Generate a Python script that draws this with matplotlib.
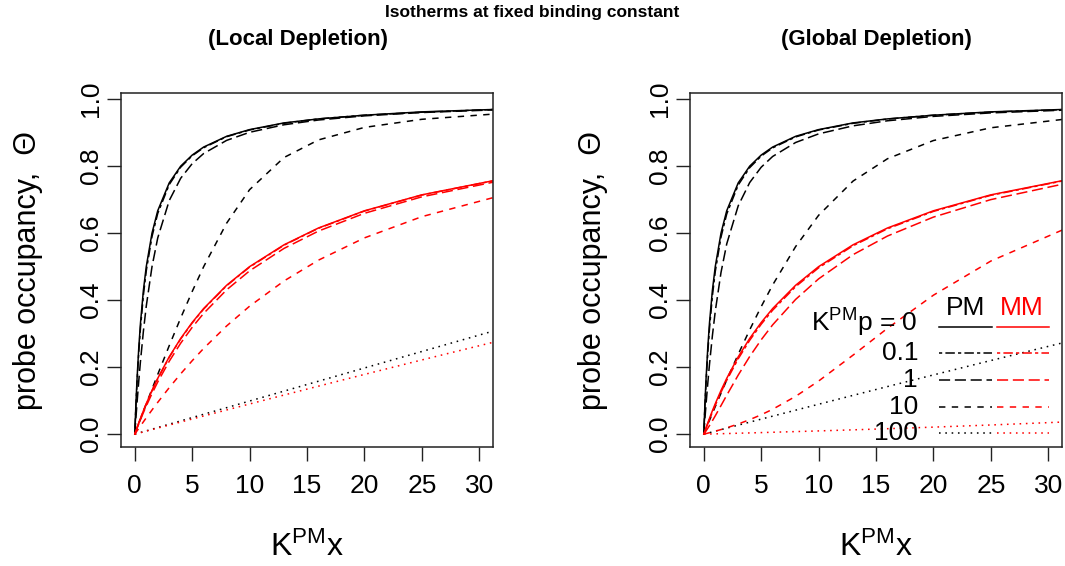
import matplotlib
matplotlib.use("Agg")
import matplotlib.pyplot as plt

plt.rcParams['font.family'] = ['Liberation Sans', 'DejaVu Sans']
plt.rcParams['mathtext.fontset'] = 'custom'
plt.rcParams['mathtext.rm'] = 'Liberation Sans'
plt.rcParams['mathtext.it'] = 'Liberation Sans:italic'
plt.rcParams['lines.scale_dashes'] = False

# ---------------- data ----------------
x = [0, 0.1, 0.2, 0.35, 0.5, 0.75, 1, 1.5, 2, 3, 4, 5, 6, 8, 10, 13, 16, 20, 25, 32]
p_labels = ["0", "0.1", "1", "10", "100"]

pm_p0 = [0, .091, .167, .259, .333, .429, .5, .6, .667, .75, .8, .833, .857, .889, .909, .929, .941, .952, .962, .970]
mm_p0 = [0, .0099, .0196, .0338, .0476, .0698, .0909, .1304, .1667, .2308, .2857, .3333, .375, .4444, .5, .5652, .6154, .6667, .7143, .7619]

# local depletion
loc_pm_p01 = [0, .084, .156, .246, .319, .415, .4875, .590, .659, .745, .797, .831, .855, .888, .908, .928, .941, .952, .961, .970]
loc_pm_p1 = [0, .0488, .095, .1598, .2192, .307, .382, .5, .5858, .6972, .7639, .8074, .8377, .8769, .901, .9235, .9377, .9501, .96, .9688]
loc_pm_p10 = [0, .0091, .0182, .0317, .0453, .0677, .0901, .1345, .1783, .2641, .3469, .4258, .5, .6298, .7298, .8258, .8783, .9156, .9398, .9573]
loc_pm_p100 = [0, .001, .002, .0035, .005, .0074, .0099, .0149, .0198, .0297, .0396, .0495, .0594, .0791, .0989, .1285, .1581, .1975, .2467, .3154]

loc_mm_p01 = [0, .0098, .0194, .0335, .0472, .0692, .0902, .1295, .1655, .2293, .2843, .3318, .3735, .4431, .4987, .5641, .6145, .6659, .7137, .7615]
loc_mm_p1 = [0, .0090, .0179, .0309, .0437, .0642, .0839, .1212, .1557, .2176, .2716, .3189, .3606, .4308, .4875, .5545, .6062, .6592, .7084, .7576]
loc_mm_p10 = [0, .005, .00995, .0174, .0247, .0368, .0488, .0722, .095, .1388, .1802, .2192, .256, .323, .382, .4573, .5194, .5858, .6492, .7132]
loc_mm_p100 = [0, .0009, .0018, .0032, .0045, .0068, .0091, .0136, .0182, .0272, .0362, .0453, .0543, .0722, .0901, .1168, .1433, .1783, .2215, .2809]

# global depletion
glo_pm_p01 = [0, .0832, .1545, .2438, .3169, .4125, .4853, .5883, .6573, .7438, .7955, .83, .8546, .8872, .9079, .9278, .9406, .952, .9613, .9695]
glo_pm_p1 = [0, .0464, .0906, .1525, .2094, .2939, .3666, .4826, .5681, .6817, .7511, .7968, .8289, .8706, .8963, .9203, .9354, .9485, .9589, .968]
glo_pm_p10 = [0, .0083, .0166, .029, .0414, .0619, .0822, .1223, .1618, .2384, .3115, .3806, .4454, .5599, .6532, .7554, .8221, .8764, .9145, .9424]
glo_pm_p100 = [0, .0009, .0018, .0032, .0045, .0068, .009, .0135, .018, .027, .0359, .0449, .0538, .0716, .0893, .1158, .1421, .1768, .2198, .2789]

glo_mm_p01 = [0, .009, .0181, .0312, .0443, .0656, .0862, .125, .1609, .225, .2802, .3281, .3702, .4403, .4965, .5624, .6131, .6649, .7129, .7609]
glo_mm_p1 = [0, .0049, .0099, .0177, .0258, .04, .0547, .0853, .1162, .1764, .2318, .2817, .3264, .4022, .4635, .5358, .5914, .6479, .7001, .7517]
glo_mm_p10 = [0, .0008, .0017, .003, .0043, .0066, .0089, .0137, .0189, .0304, .0433, .0579, .0743, .1129, .1585, .2359, .316, .4148, .5167, .6208]
glo_mm_p100 = [0, .0001, .0002, .0003, .0005, .0007, .0009, .0014, .0018, .0028, .0037, .0047, .0057, .0077, .0097, .0129, .0163, .021, .0274, .0372]

x_ticks = [0, 5, 10, 15, 20, 25, 30]
y_ticks = [0.0, 0.2, 0.4, 0.6, 0.8, 1.0]
y_ticklabels = ["0.0", "0.2", "0.4", "0.6", "0.8", "1.0"]

# ---------------- styles ----------------
styles = ['-', (0, (2.3, 2.3, 6.8, 2.3)), (0, (8, 3.4)), (0, (4.6, 4.6)), (0, (1.15, 3.4))]
RED = '#ff0000'
LW = 1.1
TICK_FS = 19

W, H = 1065, 566
fig = plt.figure(figsize=(W / 100, H / 100), dpi=100)

def axes_px(left, top, width, height):
    return fig.add_axes([left / W, 1 - (top + height) / H, width / W, height / H])

axL = axes_px(121, 92.7, 372, 354.6)
axR = axes_px(690, 92.7, 372, 354.6)

local_pm = [pm_p0, loc_pm_p01, loc_pm_p1, loc_pm_p10, loc_pm_p100]
local_mm = [mm_p0, loc_mm_p01, loc_mm_p1, loc_mm_p10, loc_mm_p100]
glob_pm = [pm_p0, glo_pm_p01, glo_pm_p1, glo_pm_p10, glo_pm_p100]
glob_mm = [mm_p0, glo_mm_p01, glo_mm_p1, glo_mm_p10, glo_mm_p100]

for ax, pms, mms, ylx in [(axL, local_pm, local_mm, -0.25), (axR, glob_pm, glob_mm, -0.261)]:
    for ys, ls in zip(pms, styles):
        ax.plot(x, ys, color='black', linestyle=ls, lw=LW, dash_capstyle='butt')
    for ys, ls in zip(mms, styles):
        ax.plot(x, ys, color=RED, linestyle=ls, lw=LW, dash_capstyle='butt')
    ax.set_xlim(-1.2, 31.2)
    ax.set_ylim(-0.0392, 1.0192)
    ax.set_xticks(x_ticks)
    ax.set_yticks(y_ticks)
    ax.set_yticklabels(y_ticklabels, rotation=90, va='center')
    ax.tick_params(axis='both', direction='out', length=10, width=1.0, labelsize=TICK_FS, color='#222222')
    ax.tick_params(axis='x', pad=9)
    ax.tick_params(axis='y', pad=3)
    for s in ax.spines.values():
        s.set_linewidth(1.1)
        s.set_color('#222222')
    ax.set_xlabel(r"K$^{\rm PM}$x", fontsize=23)
    ax.xaxis.set_label_coords(0.5, -0.237)
    ax.xaxis.label.set_va('top')
    ax.set_ylabel("probe occupancy,  \u0398", fontsize=22)
    ax.yaxis.label.set_rotation_mode('default')
    ax.yaxis.label.set_va('center')
    ax.yaxis.label.set_ha('center')
    ax.yaxis.set_label_coords(ylx, 0.5)

# ---------------- legend (right panel) ----------------
tr = axR.transAxes
row_y = [0.339, 0.266, 0.190, 0.114, 0.040]
axR.text(0.742, 0.393, "PM", transform=tr, ha='center', va='center', fontsize=TICK_FS, color='black')
axR.text(0.892, 0.393, "MM", transform=tr, ha='center', va='center', fontsize=TICK_FS, color=RED)
for i, (lab, ls, yy) in enumerate(zip(p_labels, styles, row_y)):
    txt = r"K$^{\rm PM}$p = " + lab if i == 0 else lab
    axR.text(0.613, yy + (0.012 if i == 0 else 0.0), txt, transform=tr, ha='right', va='center', fontsize=TICK_FS)
    axR.plot([0.669, 0.812], [yy, yy], transform=tr, color='black', linestyle=ls, lw=LW, dash_capstyle='butt')
    axR.plot([0.825, 0.965], [yy, yy], transform=tr, color=RED, linestyle=ls, lw=LW, dash_capstyle='butt')

# ---------------- titles ----------------
fig.text(532 / W, 1 - 12 / H, "Isotherms at fixed binding constant", ha='center', va='center',
         fontsize=12.5, fontweight='bold')
fig.text(298 / W, 1 - 40 / H, "(Local Depletion)", ha='center', va='center', fontsize=16, fontweight='bold')
fig.text(876 / W, 1 - 40 / H, "(Global Depletion)", ha='center', va='center', fontsize=16, fontweight='bold')

fig.savefig("out.png", dpi=100)
